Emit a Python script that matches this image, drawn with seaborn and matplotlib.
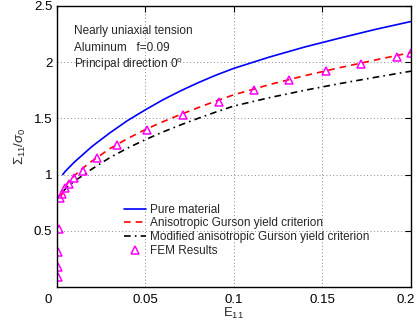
import matplotlib
matplotlib.use("Agg")
import matplotlib.pyplot as plt
import matplotlib.transforms as mtransforms
import seaborn as sns
import pandas as pd
from matplotlib.lines import Line2D

# ---- data ----
pure_x = [0.0035, 0.005, 0.0075, 0.01, 0.015, 0.02, 0.03, 0.04, 0.05, 0.06, 0.07,
          0.08, 0.09, 0.1, 0.12, 0.14, 0.16, 0.18, 0.2]
pure_y = [1.0, 1.03, 1.07, 1.11, 1.18, 1.25, 1.37, 1.48, 1.575, 1.665, 1.745,
          1.818, 1.885, 1.945, 2.045, 2.135, 2.215, 2.292, 2.362]

aniso_x = [0.0025, 0.004, 0.006, 0.01, 0.015, 0.02, 0.03, 0.04, 0.05, 0.06, 0.07,
           0.08, 0.09, 0.1, 0.12, 0.14, 0.16, 0.18, 0.2]
aniso_y = [0.80, 0.87, 0.92, 0.99, 1.06, 1.12, 1.23, 1.32, 1.40, 1.47, 1.535,
           1.596, 1.655, 1.71, 1.80, 1.88, 1.952, 2.02, 2.086]

mod_x = [0.004, 0.006, 0.01, 0.015, 0.02, 0.03, 0.04, 0.05, 0.06, 0.07,
         0.08, 0.09, 0.1, 0.12, 0.14, 0.16, 0.18, 0.2]
mod_y = [0.855, 0.89, 0.94, 0.995, 1.05, 1.15, 1.235, 1.31, 1.379, 1.442,
         1.501, 1.557, 1.61, 1.684, 1.75, 1.81, 1.866, 1.92]

fem_x = [0.001, 0.001, 0.001, 0.0012, 0.002, 0.0033, 0.0048, 0.0071, 0.0101, 0.0151,
         0.0227, 0.0343, 0.0513, 0.0713, 0.0914, 0.1112, 0.1314, 0.1521, 0.1719,
         0.1921, 0.2]
fem_y = [0.09, 0.18, 0.31, 0.52, 0.79, 0.83, 0.88, 0.92, 0.97, 1.03,
         1.145, 1.26, 1.40, 1.53, 1.65, 1.75, 1.84, 1.92, 1.98,
         2.05, 2.08]

labels = ["Pure material", "Anisotropic Gurson yield criterion",
          "Modified anisotropic Gurson yield criterion", "FEM Results"]
x_ticks = [0, 0.05, 0.1, 0.15, 0.2]
x_ticklabels = ["0", "0.05", "0.1", "0.15", "0.2"]
y_ticks = [0.5, 1, 1.5, 2, 2.5]
y_ticklabels = ["0.5", "1", "1.5", "2", "2.5"]

# ---- style ----
sns.set_style("white")
plt.rcParams["font.family"] = ["Liberation Sans", "DejaVu Sans"]
plt.rcParams["mathtext.fontset"] = "custom"
plt.rcParams["mathtext.rm"] = "Liberation Sans"
plt.rcParams["mathtext.it"] = "Liberation Sans:italic"
plt.rcParams["mathtext.bf"] = "Liberation Sans:bold"

fig = plt.figure(figsize=(4.17, 3.27), dpi=100)
ax = fig.add_axes([0.1355, 0.1223, 0.8501, 0.8594])

df_pure = pd.DataFrame({"x": pure_x, "y": pure_y})
df_an = pd.DataFrame({"x": aniso_x, "y": aniso_y})
df_mod = pd.DataFrame({"x": mod_x, "y": mod_y})
df_fem = pd.DataFrame({"x": fem_x, "y": fem_y})

red_dash = (0, (4, 3))
blk_dashdot = (0, (4, 2.5, 1, 2.5))

sns.lineplot(data=df_pure, x="x", y="y", ax=ax, color="#0000ff", lw=1.2,
             sort=False, estimator=None)
sns.lineplot(data=df_an, x="x", y="y", ax=ax, color="#ff0000", lw=1.2,
             sort=False, estimator=None, linestyle=red_dash)
sns.lineplot(data=df_mod, x="x", y="y", ax=ax, color="black", lw=1.2,
             sort=False, estimator=None, linestyle=blk_dashdot)
sns.lineplot(data=df_fem, x="x", y="y", ax=ax, color="#ff00ff", linestyle="none",
             marker="^", markersize=6, markerfacecolor="none",
             markeredgecolor="#ff00ff", markeredgewidth=1.1,
             sort=False, estimator=None)

ax.set_xlim(0, 0.2)
ax.set_ylim(0, 2.5)
ax.set_xticks(x_ticks)
ax.set_xticklabels(x_ticklabels)
ax.set_yticks(y_ticks)
ax.set_yticklabels(y_ticklabels)
ax.tick_params(direction="in", length=4, width=0.8, top=True, right=True,
               labelsize=9.5, colors="black")
ax.tick_params(axis="y", pad=3)
ax.tick_params(axis="x", pad=5)
ax.grid(True, linestyle=(0, (1, 2.5)), color="#888888", lw=0.7)
for s in ax.spines.values():
    s.set_visible(True)
    s.set_color("black")
    s.set_linewidth(1.0)

# end tick labels nudged as in the reference
xt = ax.get_xticklabels()
xt[0].set_transform(xt[0].get_transform() +
                    mtransforms.ScaledTranslation(-8 / 100, 0, fig.dpi_scale_trans))
xt[-1].set_transform(xt[-1].get_transform() +
                     mtransforms.ScaledTranslation(-5 / 100, 0, fig.dpi_scale_trans))

ax.set_xlabel(r"E$_{11}$", fontsize=9.5, labelpad=0)
ax.set_ylabel(r"$\Sigma_{11}/\sigma_0$", fontsize=9.5, labelpad=4)

ax.text(0.049, 0.90, "Nearly uniaxial tension", transform=ax.transAxes, fontsize=8.5)
ax.text(0.049, 0.84, "Aluminum   f=0.09", transform=ax.transAxes, fontsize=8.5)
ax.text(0.049, 0.78, r"Principal direction 0$^{\mathregular{o}}$",
        transform=ax.transAxes, fontsize=8.5)

handles = [
    Line2D([], [], color="#0000ff", lw=1.2),
    Line2D([], [], color="#ff0000", lw=1.2, linestyle=red_dash),
    Line2D([], [], color="black", lw=1.2, linestyle=blk_dashdot),
    Line2D([], [], color="#ff00ff", linestyle="none", marker="^", markersize=6,
           markerfacecolor="none", markeredgecolor="#ff00ff", markeredgewidth=1.1),
]
ax.legend(handles, labels, loc="upper left", bbox_to_anchor=(0.185, 0.305),
          frameon=False, fontsize=8.5, handlelength=1.8, handletextpad=0.35,
          labelspacing=0.15, borderpad=0.2, borderaxespad=0)

fig.savefig("out.png", dpi=100)
